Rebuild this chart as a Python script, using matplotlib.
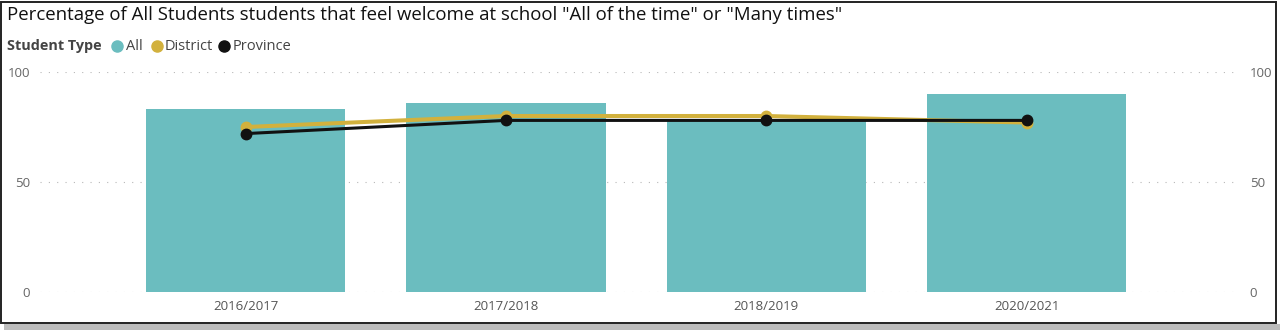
import matplotlib
matplotlib.use("Agg")
import matplotlib.pyplot as plt
from matplotlib.lines import Line2D
from matplotlib.patches import Rectangle
import numpy as np

# ---- data ----
years = ["2016/2017", "2017/2018", "2018/2019", "2020/2021"]
all_values = [83, 86, 78, 90]
district_values = [75, 80, 80, 77]
province_values = [72, 78, 78, 78]
series_names = ["All", "District", "Province"]
legend_title = "Student Type"
title_text = 'Percentage of All Students students that feel welcome at school "All of the time" or "Many times"'
y_ticks = [0, 50, 100]

TEAL = "#6BBDBF"
GOLD = "#D2B13D"
BLACK = "#111111"
series_colors = [TEAL, GOLD, BLACK]

W, H = 1280, 330
fig = plt.figure(figsize=(W / 100, H / 100), dpi=100)
fig.patch.set_facecolor("white")

def fx(px):
    return px / W

def fy(py):
    return 1 - py / H

# frame with shadow
fig.add_artist(Rectangle((fx(4), 0), fx(1276), fy(324), transform=fig.transFigure,
                         facecolor="#BDBDBD", edgecolor="none", zorder=-3))
fig.add_artist(Rectangle((fx(1), fy(323)), fx(1275), fy(2) - fy(323), transform=fig.transFigure,
                         facecolor="white", edgecolor="#222222", lw=1.4, zorder=-2))

ax = fig.add_axes([fx(40), fy(292), fx(1200), (292 - 72) / H])
ax.patch.set_alpha(0)
x = np.arange(len(years))
ax.bar(x, all_values, width=0.765, color=TEAL, zorder=2)
ax.plot(x, district_values, color=GOLD, lw=2.9, marker="o", ms=7.5, zorder=3,
        solid_joinstyle="round")
ax.plot(x, province_values, color=BLACK, lw=2.2, marker="o", ms=7.5, zorder=4,
        solid_joinstyle="round")
ax.set_xlim(-0.79, 3.82)
ax.set_ylim(0, 100)
ax.set_yticks(y_ticks)
ax.yaxis.grid(True, color="#B8B8B8", lw=0.8, linestyle=(0, (1, 6.5)))
ax.set_axisbelow(True)
for s in ax.spines.values():
    s.set_visible(False)
ax.tick_params(axis="y", length=0, labelright=True, labelleft=True, pad=7,
               labelsize=9.5, labelcolor="#666666")
ax.set_xticks(x)
ax.set_xticklabels(years)
ax.tick_params(axis="x", length=0, pad=6, labelsize=9.5, labelcolor="#555555")
for lab in ax.get_xticklabels() + ax.get_yticklabels():
    lab.set_family("Open Sans")

# title
title = fig.text(fx(7), fy(15.5), title_text, ha="left", va="center",
                 fontsize=13, family="Open Sans", color="#111111")
fig.canvas.draw()
r = fig.canvas.get_renderer()
wt = title.get_window_extent(r).width
title.set_fontsize(13 * 833 / wt)

# legend
lt = fig.text(fx(7), fy(46), legend_title, ha="left", va="center", fontsize=10,
              family="Open Sans", weight="bold", color="#444444")
fig.canvas.draw()
wl = lt.get_window_extent(r).width
lt.set_fontsize(10 * 95 / wl)
marker_x = [117, 157, 224]
text_x = [126, 165, 233]
for name, col, mx, tx in zip(series_names, series_colors, marker_x, text_x):
    fig.add_artist(Line2D([fx(mx)], [fy(46)], marker="o", ms=8, color=col,
                          transform=fig.transFigure, lw=0))
    fig.text(fx(tx), fy(46), name, ha="left", va="center", fontsize=10.5,
             family="Open Sans", color="#444444")

fig.savefig("out.png", dpi=100)
